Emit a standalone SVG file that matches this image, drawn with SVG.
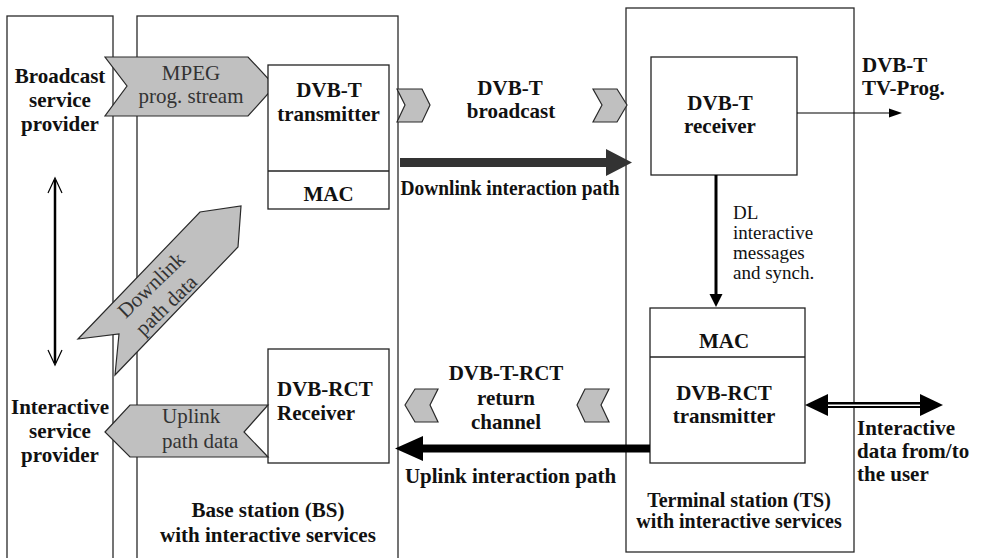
<svg xmlns="http://www.w3.org/2000/svg" width="986" height="558" viewBox="0 0 986 558">
<style>
.frame{fill:none;stroke:#2a2a2a;stroke-width:1.3}
.box{fill:#fff;stroke:#222;stroke-width:1.3}
.chev{fill:#c0c0c0;stroke:#2a2a2a;stroke-width:1.2;stroke-linejoin:miter}
text{font-family:'Liberation Serif','DejaVu Serif','Times New Roman',serif}
.b{font-weight:bold;font-size:21px;fill:#111;text-anchor:middle}
.r{font-weight:normal;font-size:21px;fill:#333;text-anchor:middle}
.s{text-anchor:start}
.dl{fill:#111;font-size:19px}
</style>
<rect width="986" height="558" fill="#fff"/>
<g font-family="Liberation Serif, DejaVu Serif, serif">

<g id="service-providers">
<rect class="frame" x="7" y="16" width="106" height="560"/>
<text class="b" x="60" y="83">Broadcast</text>
<text class="b" x="60" y="107">service</text>
<text class="b" x="60" y="131">provider</text>
<text class="b" x="60" y="414">Interactive</text>
<text class="b" x="60" y="438">service</text>
<text class="b" x="60" y="462">provider</text>
</g>

<g id="base-station">
<rect class="frame" x="137" y="16" width="261" height="560"/>
<text class="b" x="268" y="517">Base station (BS)</text>
<text class="b" x="268" y="542">with interactive services</text>
</g>

<g id="terminal-station">
<rect class="frame" x="626" y="8" width="228" height="544"/>
<text class="b" x="739" y="507" style="font-size:20px">Terminal station (TS)</text>
<text class="b" x="739" y="528" style="font-size:20px">with interactive services</text>
</g>

<g id="mpeg-stream">
<polygon class="chev" points="105,57 248,57 275,86 248,116 105,116 127,86"/>
<text class="r" x="191" y="80">MPEG</text>
<text class="r" x="191" y="103">prog. stream</text>
</g>

<g id="dvbt-transmitter">
<rect class="box" x="268" y="65" width="121" height="144"/>
<line class="box" x1="268" y1="171" x2="389" y2="171"/>
<text class="b" x="329" y="97">DVB-T</text>
<text class="b" x="328.5" y="121">transmitter</text>
<text class="b" x="328.5" y="201">MAC</text>
</g>

<g id="downlink-path-data">
<polygon class="chev" points="78,339 200,212 241,206 238,247 115,375 119,334"/>
<g transform="translate(151,285) rotate(-44)">
<text class="r" x="0" y="7">Downlink</text>
<text class="r" x="-3" y="32">path data</text>
</g>
</g>

<g id="dvbrct-receiver">
<rect class="box" x="268" y="349" width="121" height="114"/>
<text class="b s" x="277" y="396">DVB-RCT</text>
<text class="b s" x="277" y="420">Receiver</text>
</g>

<g id="uplink-path-data">
<polygon class="chev" points="105,432 130,405 268,405 244,432 268,457 130,457"/>
<text class="r s" x="162" y="423">Uplink</text>
<text class="r s" x="162" y="448">path data</text>
</g>

<g id="dvbt-receiver">
<rect class="box" x="651" y="57" width="146" height="118"/>
<text class="b" x="720" y="110">DVB-T</text>
<text class="b" x="720" y="133">receiver</text>
</g>

<g id="dvbrct-transmitter">
<rect class="box" x="650" y="308" width="155" height="155"/>
<line class="box" x1="650" y1="357" x2="805" y2="357"/>
<text class="b" x="724" y="348">MAC</text>
<text class="b" x="724" y="400">DVB-RCT</text>
<text class="b" x="724" y="423">transmitter</text>
</g>

<g id="labels">
<text class="b" x="510" y="95">DVB-T</text>
<text class="b" x="511" y="118">broadcast</text>
<text class="b" x="510" y="195" textLength="219" lengthAdjust="spacingAndGlyphs">Downlink interaction path</text>
<text class="b s" x="862" y="72">DVB-T</text>
<text class="b s" x="862" y="95">TV-Prog.</text>
<text class="r s dl" x="733" y="219">DL</text>
<text class="r s dl" x="733" y="239">interactive</text>
<text class="r s dl" x="733" y="259">messages</text>
<text class="r s dl" x="733" y="279">and synch.</text>
<text class="b" x="506" y="380">DVB-T-RCT</text>
<text class="b" x="506" y="405">return</text>
<text class="b" x="506" y="429">channel</text>
<text class="b" x="510.5" y="483">Uplink interaction path</text>
<text class="b s" x="857" y="435">Interactive</text>
<text class="b s" x="857" y="458">data from/to</text>
<text class="b s" x="857" y="481">the user</text>
</g>

<g id="connectors">
<line x1="55" y1="180" x2="55" y2="363" stroke="#000" stroke-width="2.5"/>
<polyline points="48,193 55,178 62,193" fill="none" stroke="#000" stroke-width="1.2"/>
<polyline points="48,350 55,365 62,350" fill="none" stroke="#000" stroke-width="1.2"/>
<polygon class="chev" points="397,89 422,89 430,105 422,122 397,122 405,105"/>
<polygon class="chev" points="593,89 617,89 627,105 617,122 593,122 602,105"/>
<polygon points="400,158 606,158 606,149 632,162.5 606,176 606,167 400,167" fill="#333"/>
<line x1="797" y1="113" x2="892" y2="113" stroke="#000" stroke-width="1.2"/>
<polygon points="889,108.5 902,113 889,117.5" fill="#000"/>
<line x1="716" y1="175" x2="716" y2="296" stroke="#000" stroke-width="3"/>
<polygon points="709.5,294 722.5,294 716,307" fill="#000"/>
<polygon class="chev" points="405,405 415,389 438,389 430,405 438,422 415,422"/>
<polygon class="chev" points="577,405 585,389 609,389 601,405 609,422 585,422"/>
<polygon points="650,444.5 423,444.5 423,436 395,448.5 423,461 423,452.5 650,452.5" fill="#000"/>
<line x1="826" y1="405" x2="922" y2="405" stroke="#000" stroke-width="6"/>
<line x1="826" y1="405.3" x2="922" y2="405.3" stroke="#fff" stroke-width="1.6"/>
<polygon points="805,405 828,394 828,416" fill="#000"/>
<polygon points="943,405 920,394 920,416" fill="#000"/>
</g>
</g>
</svg>
